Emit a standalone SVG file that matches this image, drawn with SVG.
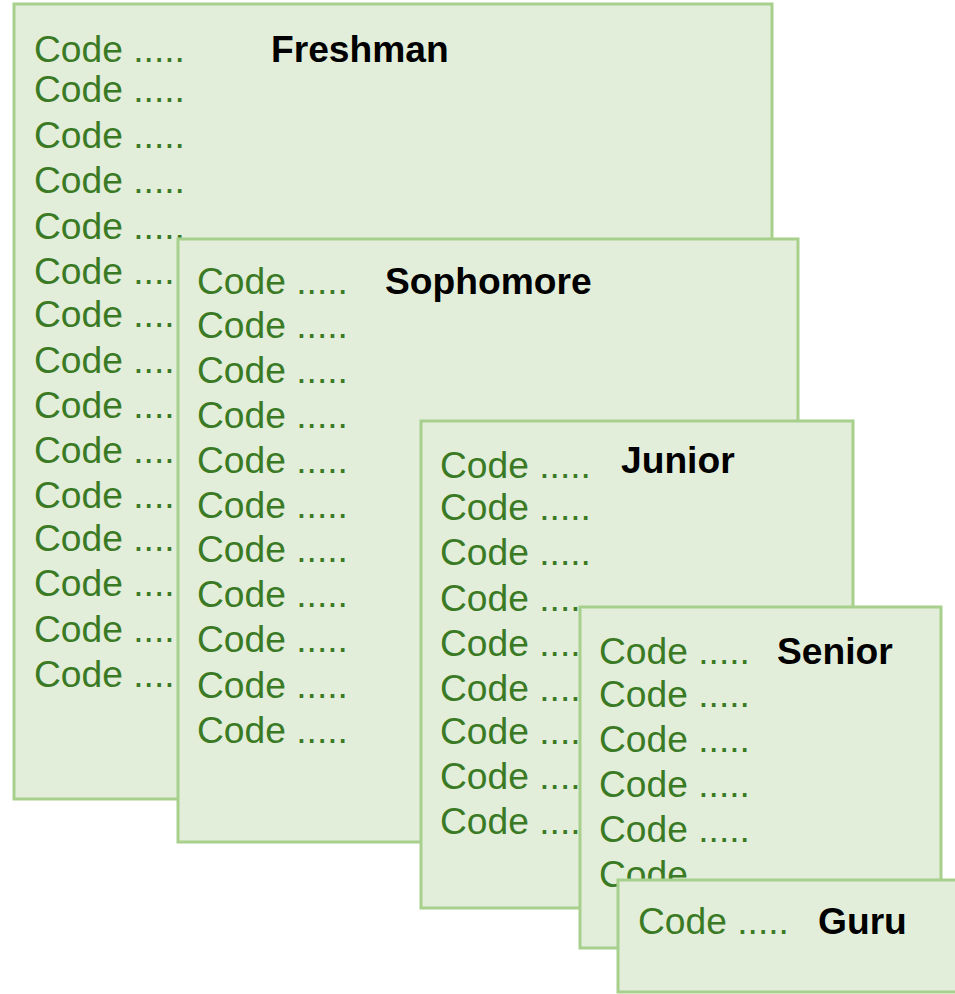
<svg xmlns="http://www.w3.org/2000/svg" width="955" height="994" viewBox="0 0 955 994">
<style>
.box{fill:#e2eeda;stroke:#a8d08d;stroke-width:3}
.c{font-family:"Liberation Sans",Arial,sans-serif;font-size:37.2px;fill:#3b7a24}
.t{font-family:"Liberation Sans",Arial,sans-serif;font-size:37.2px;font-weight:bold;fill:#000}
</style>
<rect width="955" height="994" fill="#fff"/>
<g id="freshman">
<rect class="box" x="14" y="4" width="758" height="795"/>
<text class="c" x="34" y="62">Code .....</text>
<text class="c" x="34" y="102">Code .....</text>
<text class="c" x="34" y="148">Code .....</text>
<text class="c" x="34" y="193">Code .....</text>
<text class="c" x="34" y="239">Code .....</text>
<text class="c" x="34" y="284">Code .....</text>
<text class="c" x="34" y="327">Code .....</text>
<text class="c" x="34" y="373">Code .....</text>
<text class="c" x="34" y="418">Code .....</text>
<text class="c" x="34" y="463">Code .....</text>
<text class="c" x="34" y="508">Code .....</text>
<text class="c" x="34" y="551">Code .....</text>
<text class="c" x="34" y="596">Code .....</text>
<text class="c" x="34" y="642">Code .....</text>
<text class="c" x="34" y="687">Code .....</text>
<text class="t" x="271" y="62">Freshman</text>
</g>
<g id="sophomore">
<rect class="box" x="178" y="239" width="620" height="603"/>
<text class="c" x="197" y="294">Code .....</text>
<text class="c" x="197" y="338">Code .....</text>
<text class="c" x="197" y="383">Code .....</text>
<text class="c" x="197" y="428">Code .....</text>
<text class="c" x="197" y="473">Code .....</text>
<text class="c" x="197" y="518">Code .....</text>
<text class="c" x="197" y="562">Code .....</text>
<text class="c" x="197" y="607">Code .....</text>
<text class="c" x="197" y="652">Code .....</text>
<text class="c" x="197" y="698">Code .....</text>
<text class="c" x="197" y="743">Code .....</text>
<text class="t" x="385" y="294">Sophomore</text>
</g>
<g id="junior">
<rect class="box" x="421" y="421" width="432" height="487"/>
<text class="c" x="440" y="478">Code .....</text>
<text class="c" x="440" y="520">Code .....</text>
<text class="c" x="440" y="565">Code .....</text>
<text class="c" x="440" y="611">Code .....</text>
<text class="c" x="440" y="656">Code .....</text>
<text class="c" x="440" y="701">Code .....</text>
<text class="c" x="440" y="744">Code .....</text>
<text class="c" x="440" y="789">Code .....</text>
<text class="c" x="440" y="834">Code .....</text>
<text class="t" x="621" y="473">Junior</text>
</g>
<g id="senior">
<rect class="box" x="580" y="607" width="361" height="341"/>
<text class="c" x="599" y="664">Code .....</text>
<text class="c" x="599" y="707">Code .....</text>
<text class="c" x="599" y="752">Code .....</text>
<text class="c" x="599" y="797">Code .....</text>
<text class="c" x="599" y="842">Code .....</text>
<text class="c" x="599" y="887">Code .....</text>
<text class="t" x="777" y="664">Senior</text>
</g>
<g id="guru">
<rect class="box" x="618" y="880" width="345" height="112"/>
<text class="c" x="638" y="934">Code .....</text>
<text class="t" x="818" y="934">Guru</text>
</g>
<g id="connectors"></g>
</svg>
